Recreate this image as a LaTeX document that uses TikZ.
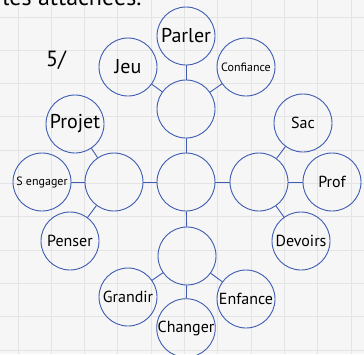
\documentclass[tikz,border=0pt]{standalone}
\usepackage{fontspec}
\setmainfont{PT Sans}
\definecolor{lienbleu}{RGB}{62,92,178}
\definecolor{fond}{RGB}{246,246,246}
\definecolor{quadrillage}{RGB}{228,228,228}
\tikzset{
  bulle/.style={circle,draw=lienbleu,line width=0.9pt,minimum size=58pt,inner sep=0pt},
  lien/.style={draw=lienbleu,line width=0.9pt},
  grand/.style={font=\fontsize{20}{20}\selectfont},
  moyen/.style={font=\fontsize{16}{16}\selectfont},
  petit/.style={font=\fontsize{12}{12}\selectfont}
}
\begin{document}
\begin{tikzpicture}[x=1pt,y=-1pt]
\useasboundingbox (0,0) rectangle (364,354);
\clip (0,0) rectangle (364,354);
\fill [fond] (0,0) rectangle (364,354);
% quadrillage
\foreach \k in {0,...,10} {\draw [quadrillage,line width=1pt] (18+33.33*\k,0) -- (18+33.33*\k,354);}
\foreach \k in {0,...,10} {\draw [quadrillage,line width=1pt] (0,17+33.33*\k) -- (364,17+33.33*\k);}
\node [font=\fontsize{24}{24}\selectfont, anchor=base east] (titre) at (145,5) {les attachées.};
\node [font=\fontsize{22}{22}\selectfont] (num) at (56,60) {5/};
% centre et branches
\node [bulle] (centre) at (186,182) {};
\node [bulle] (haut) at (186,109) {};
\node [bulle] (gauche) at (114,182) {};
\node [bulle] (droite) at (259,182) {};
\node [bulle] (bas) at (187,256) {};
% mots
\node [bulle,grand] (parler) at (186,36) {Parler};
\node [bulle,grand] (jeu) at (128,67) {Jeu};
\node [bulle,petit] (confiance) at (246,67) {Confiance};
\node [bulle,grand] (projet) at (75,124) {Projet};
\node [bulle,petit] (sengager) at (42,182) {S engager};
\node [bulle,moyen] (penser) at (70,241) {Penser};
\node [bulle,moyen] (sac) at (303,123) {Sac};
\node [bulle,moyen] (prof) at (332,182) {Prof};
\node [bulle,moyen] (devoirs) at (301,241) {Devoirs};
\node [bulle,moyen] (grandir) at (128,297) {Grandir};
\node [bulle,moyen] (enfance) at (246,299) {Enfance};
\node [bulle,moyen] (changer) at (186,328) {Changer};
% liens
\foreach \a in {haut,gauche,droite,bas} {\draw [lien] (centre) -- (\a);}
\foreach \a in {parler,jeu,confiance} {\draw [lien] (haut) -- (\a);}
\foreach \a in {projet,sengager,penser} {\draw [lien] (gauche) -- (\a);}
\foreach \a in {sac,prof,devoirs} {\draw [lien] (droite) -- (\a);}
\foreach \a in {grandir,enfance,changer} {\draw [lien] (bas) -- (\a);}
\end{tikzpicture}
\end{document}
